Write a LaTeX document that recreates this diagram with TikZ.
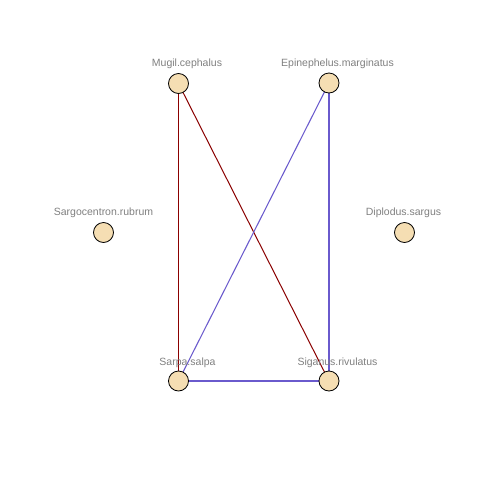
\documentclass[tikz,border=0pt]{standalone}
\usepackage{fontspec}
\setmainfont{Liberation Sans}
\definecolor{nodefill}{HTML}{F5DEB3}
\definecolor{lblgray}{HTML}{808080}
\definecolor{redge}{HTML}{8B0000}
\definecolor{bedge}{HTML}{6A5ACD}
\begin{document}
\begin{tikzpicture}[x=1pt,y=-1pt,
  vert/.style={circle,draw=black,fill=nodefill,minimum size=20pt,inner sep=0pt,line width=0.8pt},
  lbl/.style={text=lblgray,font=\fontsize{10.5}{10.5}\selectfont,inner sep=0pt,anchor=center},
  redline/.style={draw=redge,line width=1pt},
  blueline/.style={draw=bedge,line width=1.05pt}]
\useasboundingbox (0,0) rectangle (480,480);
\fill[white] (0,0) rectangle (480,480);
\coordinate (m) at (178.5,83.5);
\coordinate (e) at (329,83);
\coordinate (sr) at (103.5,232.5);
\coordinate (d) at (404.5,232.5);
\coordinate (sa) at (178.5,381);
\coordinate (si) at (329,381);
\draw[redline] (m) -- (sa);
\draw[redline] (m) -- (si);
\draw[blueline] (e) -- (sa);
\draw[blueline] (e) -- (si);
\draw[blueline] (sa) -- (si);
\node[vert] (M) at (m) {};
\node[vert] (E) at (e) {};
\node[vert] (SR) at (sr) {};
\node[vert] (D) at (d) {};
\node[vert] (SA) at (sa) {};
\node[vert] (SI) at (si) {};
\node[lbl] (lM) at (187,64) {Mugil.cephalus};
\node[lbl] (lE) at (337.5,64) {Epinephelus.marginatus};
\node[lbl] (lSR) at (103.5,213) {Sargocentron.rubrum};
\node[lbl] (lD) at (403.5,213) {Diplodus.sargus};
\node[lbl] (lSA) at (187.5,362.5) {Sarpa.salpa};
\node[lbl] (lSI) at (337.5,362.5) {Siganus.rivulatus};
\end{tikzpicture}
\end{document}
